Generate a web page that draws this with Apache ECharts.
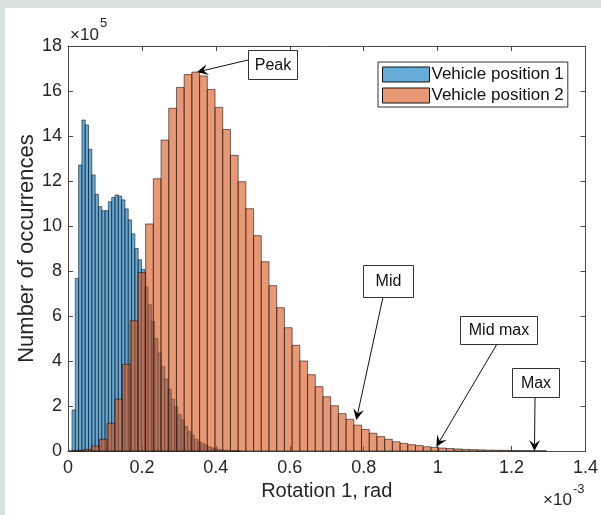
<!DOCTYPE html>
<html>
<head>
<meta charset="utf-8">
<script src="https://cdn.jsdelivr.net/npm/echarts@6/dist/echarts.min.js"></script>
<style>
html,body{margin:0;padding:0;background:#fff;}
#c{width:601px;height:515px;}
</style>
</head>
<body>
<div id="c"></div>
<script>
// ---- data (x in units of 1e-3 rad, counts in units of 1e5) ----
const seriesNames = ['Vehicle position 1', 'Vehicle position 2'];
const blueBinStart = 0.0108;
const blueBinWidth = 0.00895;
const blueCounts = [1.82, 7.67, 12.71, 14.71, 14.49, 13.41, 12.27, 11.41, 10.86, 10.68,
  10.68, 11.08, 11.27, 11.38, 11.33, 11.16, 10.76, 10.27, 9.65, 9.0,
  8.5, 8.07, 7.3, 6.5, 5.75, 5.0, 4.35, 3.75, 3.2, 2.74,
  2.3, 1.97, 1.63, 1.38, 1.08, 0.86, 0.71, 0.52, 0.41, 0.34,
  0.27, 0.19, 0.14, 0.1, 0.07, 0.05, 0.035, 0.025, 0.02, 0.015, 0.01];
const orangeBinStart = 0.0014;
const orangeBinWidth = 0.02086;
const orangeCounts = [0.01, 0.03, 0.07, 0.22, 0.52, 1.23, 2.3, 3.85, 5.79, 7.93,
  10.09, 12.1, 13.82, 15.23, 16.16, 16.73, 16.84, 16.67, 16.07, 15.27,
  14.29, 13.14, 11.97, 10.77, 9.57, 8.41, 7.35, 6.37, 5.48, 4.70,
  4.0, 3.39, 2.86, 2.41, 2.01, 1.66, 1.41, 1.15, 0.96, 0.79,
  0.64, 0.52, 0.41, 0.34, 0.28, 0.24, 0.19, 0.16, 0.13, 0.11,
  0.09, 0.07, 0.06, 0.05, 0.04, 0.035, 0.03, 0.025, 0.02, 0.015, 0.01, 0.01];
const xTicks = [0, 0.2, 0.4, 0.6, 0.8, 1, 1.2, 1.4];
const yTicks = [0, 2, 4, 6, 8, 10, 12, 14, 16, 18];
// annotations: label and the data point the arrow points to
const annLabels = ['Peak', 'Mid', 'Mid max', 'Max'];
const annTipX = [0.349, 0.780, 0.9965, 1.262];
const annTipY = [16.84, 1.38, 0.19, 0.0];

// ---- styles ----
const FONT = '"Liberation Sans", Arial, Helvetica, sans-serif';
const blueFill = 'rgba(0,114,189,0.6)';
const orangeFill = 'rgba(217,83,25,0.6)';
const edge = 'rgba(20,20,20,0.85)';
const axisCol = '#4a4a4a';

function toBins(start, width, counts) {
  return counts.map((c, i) => [start + i * width, start + (i + 1) * width, c]);
}
function histItem(fill) {
  return function (params, api) {
    const p0 = api.coord([api.value(0), 0]);
    const p1 = api.coord([api.value(1), api.value(2)]);
    return {
      type: 'rect',
      shape: { x: p0[0], y: p1[1], width: p1[0] - p0[0], height: p0[1] - p1[1] },
      style: { fill: fill, stroke: edge, lineWidth: 0.7 }
    };
  };
}

const chart = echarts.init(document.getElementById('c'), null, { renderer: 'canvas' });
const xMin = xTicks[0], xMax = xTicks[xTicks.length - 1];
const yMin = yTicks[0], yMax = yTicks[yTicks.length - 1];
const xInt = xTicks[1] - xTicks[0], yInt = yTicks[1] - yTicks[0];

const axisCommon = {
  axisLine: { show: true, onZero: false, lineStyle: { color: axisCol, width: 1 } },
  axisTick: { show: true, inside: true, length: 5, lineStyle: { color: axisCol, width: 1 } },
  splitLine: { show: false }
};

chart.setOption({
  animation: false,
  backgroundColor: '#ffffff',
  textStyle: { fontFamily: FONT },
  grid: { left: 68, top: 46, width: 518, height: 405, containLabel: false },
  legend: {
    left: 378, top: 62, orient: 'vertical', icon: 'rect',
    itemWidth: 47, itemHeight: 15, itemGap: 4,
    padding: [4, 4, 3, 4],
    backgroundColor: '#fff', borderColor: '#333', borderWidth: 1, borderRadius: 0,
    textStyle: { fontFamily: FONT, fontSize: 17, color: '#111', padding: [0, 0, 0, -3] },
    data: [
      { name: seriesNames[0], itemStyle: { color: blueFill, borderColor: '#111', borderWidth: 1 } },
      { name: seriesNames[1], itemStyle: { color: orangeFill, borderColor: '#111', borderWidth: 1 } }
    ]
  },
  xAxis: [
    Object.assign({
      type: 'value', min: xMin, max: xMax, interval: xInt, position: 'bottom',
      name: 'Rotation 1, rad', nameLocation: 'middle', nameGap: 28,
      nameTextStyle: { fontSize: 20, color: '#262626', fontFamily: FONT },
      axisLabel: { fontSize: 18, color: '#262626', margin: 8, fontFamily: FONT }
    }, axisCommon),
    Object.assign({
      type: 'value', min: xMin, max: xMax, interval: xInt, position: 'top',
      axisLabel: { show: false }
    }, axisCommon)
  ],
  yAxis: [
    Object.assign({
      type: 'value', min: yMin, max: yMax, interval: yInt, position: 'left',
      name: 'Number of occurrences', nameLocation: 'middle', nameGap: 30,
      nameMoveOverlap: false,
      nameTextStyle: { fontSize: 22, color: '#262626', fontFamily: FONT },
      axisLabel: { fontSize: 18, color: '#262626', margin: 6, fontFamily: FONT }
    }, axisCommon),
    Object.assign({
      type: 'value', min: yMin, max: yMax, interval: yInt, position: 'right',
      axisLabel: { show: false }
    }, axisCommon)
  ],
  series: [
    {
      name: seriesNames[0], type: 'custom', xAxisIndex: 0, yAxisIndex: 0,
      renderItem: histItem(blueFill), itemStyle: { color: blueFill },
      encode: { x: [0, 1], y: 2 },
      data: toBins(blueBinStart, blueBinWidth, blueCounts), z: 2
    },
    {
      name: seriesNames[1], type: 'custom', xAxisIndex: 0, yAxisIndex: 0,
      renderItem: histItem(orangeFill), itemStyle: { color: orangeFill },
      encode: { x: [0, 1], y: 2 },
      data: toBins(orangeBinStart, orangeBinWidth, orangeCounts), z: 3
    }
  ]
});

// ---- annotation layout (text boxes in page pixels, tails start at box edge) ----
const annBoxes = [
  { x: 248, y: 50, w: 49, h: 29, tail: [248, 60] },
  { x: 363, y: 265, w: 50, h: 32, tail: [383, 297] },
  { x: 460, y: 316, w: 77, h: 28, tail: [497, 344] },
  { x: 512, y: 368, w: 47, h: 29, tail: [535, 397] }
];

const g = [];
// figure border strips
g.push({ type: 'rect', left: 0, top: 0, shape: { width: 601, height: 8 }, style: { fill: '#d7e0df' }, z: 100 });
g.push({ type: 'rect', left: 0, top: 0, shape: { width: 5, height: 515 }, style: { fill: '#d7e0df' }, z: 100 });
// exponent labels
g.push({ type: 'text', left: 70, top: 27, style: { text: '\u00d710', font: '17px ' + FONT, fill: '#262626' }, z: 50 });
g.push({ type: 'text', left: 100, top: 17, style: { text: '5', font: '13px ' + FONT, fill: '#262626' }, z: 50 });
g.push({ type: 'text', left: 543, top: 492, style: { text: '\u00d710', font: '17px ' + FONT, fill: '#262626' }, z: 50 });
g.push({ type: 'text', left: 573, top: 483, style: { text: '-3', font: '13px ' + FONT, fill: '#262626' }, z: 50 });

annLabels.forEach((lab, i) => {
  const b = annBoxes[i];
  const tip = chart.convertToPixel({ xAxisIndex: 0, yAxisIndex: 0 }, [annTipX[i], annTipY[i]]);
  const t = b.tail;
  const dx = tip[0] - t[0], dy = tip[1] - t[1];
  const len = Math.sqrt(dx * dx + dy * dy);
  const ux = dx / len, uy = dy / len;
  const nx = -uy, ny = ux;
  const L = 11, W = 11;
  const bx = tip[0] - ux * L, by = tip[1] - uy * L;
  const notch = [tip[0] - ux * L * 0.6, tip[1] - uy * L * 0.6];
  g.push({ type: 'line', shape: { x1: t[0], y1: t[1], x2: notch[0], y2: notch[1] },
    style: { stroke: '#111', lineWidth: 1 }, z: 60 });
  g.push({ type: 'polygon', shape: { points: [
      [tip[0], tip[1]], [bx + nx * W / 2, by + ny * W / 2], notch, [bx - nx * W / 2, by - ny * W / 2]] },
    style: { fill: '#000' }, z: 61 });
  g.push({ type: 'rect', shape: { x: b.x + 0.5, y: b.y + 0.5, width: b.w, height: b.h },
    style: { fill: '#fff', stroke: '#333', lineWidth: 1 }, z: 62 });
  g.push({ type: 'text', x: b.x + b.w / 2 + 0.5, y: b.y + b.h / 2 + 1,
    style: { text: lab, font: '16px ' + FONT, fill: '#111', align: 'center', verticalAlign: 'middle' }, z: 63 });
});

chart.setOption({ graphic: g });
</script>
</body>
</html>
